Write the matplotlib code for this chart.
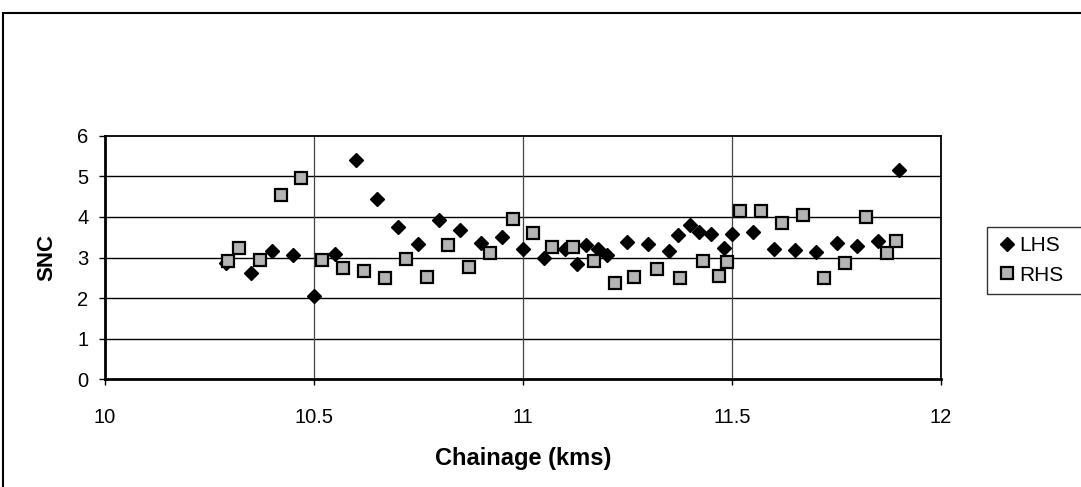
"""
SNC vs chainage scatter, LHS and RHS wheel paths
"""

import matplotlib
matplotlib.use("Agg")
import matplotlib.pyplot as plt
from matplotlib.patches import Rectangle

plt.rcParams['font.family'] = ['Liberation Sans', 'DejaVu Sans']

# LHS readings (chainage in km, SNC)
lhs_chainage = [10.29, 10.35, 10.40, 10.45, 10.50, 10.55, 10.60, 10.65, 10.70, 10.75,
                10.80, 10.85, 10.90, 10.95, 11.00, 11.05, 11.10, 11.13, 11.15, 11.18,
                11.20, 11.25, 11.30, 11.35, 11.37, 11.40, 11.42, 11.45, 11.48, 11.50,
                11.55, 11.60, 11.65, 11.70, 11.75, 11.80, 11.85, 11.90]
lhs_snc = [2.86, 2.61, 3.15, 3.05, 2.04, 3.09, 5.39, 4.44, 3.74, 3.33,
           3.93, 3.68, 3.36, 3.50, 3.21, 2.99, 3.20, 2.83, 3.31, 3.22,
           3.06, 3.38, 3.33, 3.17, 3.55, 3.80, 3.64, 3.58, 3.23, 3.59,
           3.62, 3.21, 3.19, 3.13, 3.36, 3.28, 3.41, 5.15]

# RHS readings
rhs_chainage = [10.295, 10.32, 10.37, 10.42, 10.47, 10.52, 10.57, 10.62, 10.67, 10.72,
                10.77, 10.82, 10.87, 10.92, 10.975, 11.025, 11.07, 11.12, 11.17, 11.22,
                11.265, 11.32, 11.375, 11.43, 11.47, 11.487, 11.52, 11.57, 11.62, 11.67,
                11.72, 11.77, 11.82, 11.87, 11.893]
rhs_snc = [2.92, 3.23, 2.93, 4.54, 4.97, 2.93, 2.75, 2.66, 2.50, 2.97,
           2.52, 3.31, 2.76, 3.11, 3.95, 3.60, 3.25, 3.25, 2.92, 2.37,
           2.53, 2.72, 2.50, 2.91, 2.54, 2.89, 4.15, 4.15, 3.84, 4.04,
           2.49, 2.86, 3.99, 3.10, 3.41]

x_ticks = [10, 10.5, 11, 11.5, 12]
x_tick_labels = ["10", "10.5", "11", "11.5", "12"]
y_ticks = [0, 1, 2, 3, 4, 5, 6]

fig = plt.figure(figsize=(10.81, 4.87), dpi=100)
ax = fig.add_axes([0.0971, 0.2211, 0.7734, 0.5003])

# grid: horizontal solid, vertical a bit lighter
for yv in y_ticks[1:-1]:
    ax.axhline(yv, color='black', linewidth=1.0, zorder=1)
for xv in x_ticks[1:-1]:
    ax.axvline(xv, color='#444444', linewidth=0.9, zorder=1)

ax.plot(lhs_chainage, lhs_snc, linestyle='none', marker='D', markersize=7.5,
        markerfacecolor='black', markeredgecolor='black', label='LHS', zorder=3)
ax.plot(rhs_chainage, rhs_snc, linestyle='none', marker='s', markersize=8,
        markerfacecolor='#b4b4b4', markeredgecolor='black', markeredgewidth=1.6,
        label='RHS', zorder=4)

ax.set_xlim(10, 12)
ax.set_ylim(0, 6)
ax.set_xticks(x_ticks)
ax.set_xticklabels(x_tick_labels)
ax.set_yticks(y_ticks)
ax.tick_params(axis='both', which='major', labelsize=14.5, direction='out',
               length=4, width=1)
ax.tick_params(axis='y', pad=8)
ax.tick_params(axis='x', pad=17)

ax.set_xlabel("Chainage (kms)", fontsize=17, fontweight='bold', labelpad=14)
ax.set_ylabel("SNC", fontsize=16, fontweight='bold', labelpad=14)

ax.spines['left'].set_linewidth(2)
ax.spines['bottom'].set_linewidth(2)
ax.spines['top'].set_linewidth(1.3)
ax.spines['right'].set_linewidth(1.3)

# legend box runs past the right edge, as in the scanned original
leg = ax.legend(loc='upper left', bbox_to_anchor=(0.913, 0.334, 0.2, 0.2),
                bbox_transform=fig.transFigure, borderaxespad=0, mode='expand',
                fontsize=15, frameon=True, fancybox=False, handletextpad=0.1,
                handlelength=1.0, borderpad=0.45, labelspacing=0.5)
leg.get_frame().set_edgecolor('black')
leg.get_frame().set_linewidth(1.0)

# outer border of the original chart object
fig.patches.append(Rectangle((0.003, -0.1), 1.1, 1.1 - 13 / 487,
                             transform=fig.transFigure, fill=False,
                             edgecolor='black', linewidth=1.5))

fig.savefig("out.png", dpi=100)
